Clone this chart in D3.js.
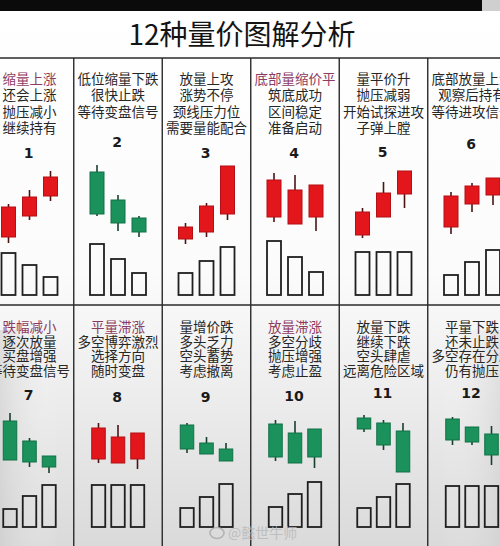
<!DOCTYPE html>
<html><head><meta charset="utf-8">
<script src="https://cdn.jsdelivr.net/npm/d3@7"></script>
<style>html,body{margin:0;padding:0;background:#fff}svg{display:block}</style>
</head><body>
<svg id="c" width="500" height="546"></svg>
<script>
// ---------------- data ----------------
const title = "12种量价图解分析";
const panelLabels = ["1","2","3","4","5","6","7","8","9","10","11","12"];
const captions = [
  ["缩量上涨","还会上涨","抛压减小","继续持有"],
  ["低位缩量下跌","很快止跌","等待变盘信号"],
  ["放量上攻","涨势不停","颈线压力位","需要量能配合"],
  ["底部量缩价平","筑底成功","区间稳定","准备启动"],
  ["量平价升","抛压减弱","开始试探进攻","子弹上膛"],
  ["底部放量上涨","观察后持有","等待进攻信号"],
  ["跌幅减小","逐次放量","买盘增强","等待变盘信号"],
  ["平量滞涨","多空博弈激烈","选择方向","随时变盘"],
  ["量增价跌","多头乏力","空头蓄势","考虑撤离"],
  ["放量滞涨","多空分歧","抛压增强","考虑止盈"],
  ["放量下跌","继续下跌","空头肆虐","远离危险区域"],
  ["平量下跌","还未止跌","多空存在分歧","仍有抛压"]
];
const opens  = [[13,34,54],[78,50,32],[11,18,36],[33,26,33],[15,33,56],[23,46,55],
                [59,39,24],[21,17,21],[55,37,31],[56,47,51],[62,57,49],[61,53,46]];
const closes = [[43,53,73],[36,27,18],[23,44,84],[70,60,65],[38,57,79],[54,64,72],
                [20,18,13],[52,43,47],[31,26,19],[23,17,23],[51,35,8],[40,38,25]];
const highs  = [[46,60,79],[85,55,34],[27,47,84],[77,75,65],[42,68,79],[58,67,72],
                [67,42,24],[57,55,47],[57,43,37],[60,59,51],[65,60,57],[63,53,54]];
const lows   = [[7,30,49],[34,19,13],[6,13,30],[28,26,19],[12,33,42],[16,38,45],
                [20,13,7],[17,17,11],[27,26,19],[19,17,12],[48,30,8],[35,35,15]];
const volumes = [[42,30,18],[51,36,22],[22,34,48],[54,38,23],[43,43,43],[20,33,45],
                 [18,31,42],[42,42,42],[19,30,43],[20,33,45],[19,30,43],[41,41,41]];

// ---------------- layout / style ----------------
const W = 500, H = 546;
const RED = "#e3161c", RED_EDGE = "#b30f14", GREEN = "#1b925b", GREEN_EDGE = "#127046";
const headColored = new Set([0,3,6,7,9]);
const rows = [
  {top:58, bottom:305, price:[250,150], vol:[295,235], textY:79, step:16.4, numY:153, spacing:21, bw:14},
  {top:305, bottom:546, price:[480,380], vol:[527,467], textY:327, step:14.8, numY:395, spacing:19.5, bw:13.5}
];
const numDy = [0,-11,0,0,-1,-9, 0,2,2,1,-2,-2];
const CJK = "'Noto Sans CJK SC','Noto Sans CJK JP',sans-serif";

const svg = d3.select("#c");
const defs = svg.append("defs");
const grad = defs.append("linearGradient").attr("id","bg").attr("x1",0).attr("y1",0).attr("x2",0).attr("y2",1);
grad.append("stop").attr("offset","0%").attr("stop-color","#ffffff");
grad.append("stop").attr("offset","50%").attr("stop-color","#fbfbfb");
grad.append("stop").attr("offset","72%").attr("stop-color","#ededed");
grad.append("stop").attr("offset","100%").attr("stop-color","#dadada");
svg.append("rect").attr("width",W).attr("height",H).attr("fill","url(#bg)");
const side = defs.append("linearGradient").attr("id","side").attr("x1",0).attr("y1",0).attr("x2",1).attr("y2",0);
side.append("stop").attr("offset","0%").attr("stop-color","#c8c8c8").attr("stop-opacity",0.5);
side.append("stop").attr("offset","12%").attr("stop-color","#ffffff").attr("stop-opacity",0);
side.append("stop").attr("offset","88%").attr("stop-color","#ffffff").attr("stop-opacity",0);
side.append("stop").attr("offset","100%").attr("stop-color","#c8c8c8").attr("stop-opacity",0.4);
svg.append("rect").attr("y",330).attr("width",W).attr("height",H-330).attr("fill","url(#side)");

// top black strip
svg.append("rect").attr("x",0).attr("y",0).attr("width",482).attr("height",11).attr("fill","#0b0b0b");
svg.append("rect").attr("x",482).attr("y",0).attr("width",18).attr("height",11).attr("fill","#cfcfcf");

// title
svg.append("text").attr("x",242).attr("y",45).attr("text-anchor","middle")
  .attr("font-family",CJK).attr("font-size",28).attr("font-weight",400).attr("fill","#141414")
  .text(title);

// column scale
const cols = d3.scaleBand().domain(d3.range(6)).range([-14.75, 516.25]).paddingInner(0).paddingOuter(0);

// grid lines
const grid = svg.append("g").attr("stroke","#2a2a2a").attr("stroke-width",1.4);
grid.append("line").attr("x1",0).attr("x2",W).attr("y1",58).attr("y2",58);
grid.append("line").attr("x1",0).attr("x2",W).attr("y1",305).attr("y2",305);
rows.forEach(r => {
  d3.range(1,6).forEach(k => {
    const x = cols(k);
    grid.append("line").attr("x1",x).attr("x2",x).attr("y1",r.top).attr("y2",r.bottom);
  });
});

// panels
panelLabels.forEach((lab, p) => {
  const row = rows[Math.floor(p/6)];
  const col = p % 6;
  const cx = cols(col) + cols.bandwidth()/2;
  const y = d3.scaleLinear().domain([0,100]).range(row.price);
  const v = d3.scaleLinear().domain([0,60]).range(row.vol);
  const xs = d3.scalePoint().domain([0,1,2]).range([cx - row.spacing, cx + row.spacing]);
  const g = svg.append("g");

  // caption: one text block with a tspan per line
  const cap = g.append("text").attr("x",cx).attr("y",row.textY)
    .attr("text-anchor","middle").attr("font-family",CJK).attr("font-size",13.5);
  captions[p].forEach((line, i) => {
    cap.append("tspan").attr("x",cx).attr("y",row.textY + i*row.step).attr("dy","0.36em")
      .attr("fill", (i===0 && headColored.has(p)) ? "#8c3b63" : "#262626")
      .text(line);
  });

  // number
  g.append("text").attr("x",cx - 1).attr("y",row.numY + numDy[p]).attr("dy","0.36em")
    .attr("text-anchor","middle").attr("font-family","'DejaVu Sans',sans-serif")
    .attr("font-size",14).attr("font-weight","bold").attr("fill","#1a1a1a").text(lab);

  const candles = d3.range(3).map(i => ({
    i, o: opens[p][i], c: closes[p][i], h: highs[p][i], l: lows[p][i], vol: volumes[p][i]
  }));

  // wicks
  g.selectAll(".wick").data(candles).join("line")
    .attr("x1", d => xs(d.i)).attr("x2", d => xs(d.i))
    .attr("y1", d => y(d.h)).attr("y2", d => y(d.l))
    .attr("stroke", d => d.c >= d.o ? "#4a1414" : "#173f2c").attr("stroke-width",1.6);

  // bodies
  g.selectAll(".body").data(candles).join("rect")
    .attr("x", d => xs(d.i) - row.bw/2).attr("width", row.bw)
    .attr("y", d => y(Math.max(d.o,d.c)))
    .attr("height", d => Math.abs(y(d.o) - y(d.c)))
    .attr("fill", d => d.c >= d.o ? RED : GREEN)
    .attr("stroke", d => d.c >= d.o ? RED_EDGE : GREEN_EDGE).attr("stroke-width",1);

  // volume bars
  g.selectAll(".vol").data(candles).join("rect")
    .attr("x", d => xs(d.i) - row.bw/2).attr("width", row.bw)
    .attr("y", d => v(d.vol)).attr("height", d => v(0) - v(d.vol))
    .attr("fill","none").attr("stroke","#1f1f1f").attr("stroke-width",1.8);
});

// watermark
const wm = svg.append("g").attr("opacity",0.8);
wm.append("ellipse").attr("cx",217).attr("cy",533).attr("rx",7).attr("ry",5.5)
  .attr("fill","none").attr("stroke","#aaaaaa").attr("stroke-width",1.6);
wm.append("text").attr("x",228).attr("y",538).attr("font-family",CJK).attr("font-size",14)
  .attr("fill","#b8b8b8").text("@懿世牛师");
</script>
</body></html>
